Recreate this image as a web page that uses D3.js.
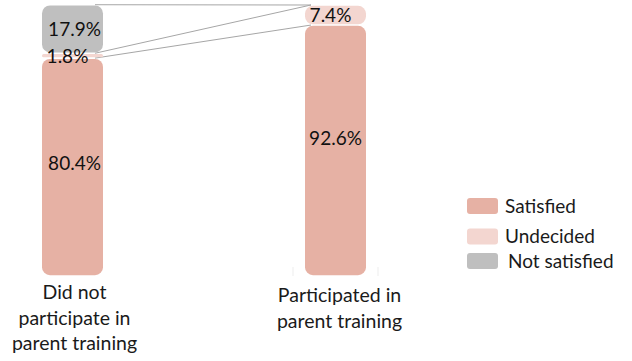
<!DOCTYPE html>
<html>
<head>
<meta charset="utf-8">
<script src="https://cdn.jsdelivr.net/npm/d3@7"></script>
<style>
  html, body { margin: 0; padding: 0; background: #fff; }
  svg { display: block; font-family: Lato, "Open Sans", sans-serif; }
</style>
</head>
<body>
<svg id="chart" width="632" height="361"></svg>
<script>
// Survey groups and the share of parents in each satisfaction category (%)
const groups = ["Did not participate in parent training", "Participated in parent training"];
const groupLines = [["Did not", "participate in", "parent training"], ["Participated in", "parent training"]];
const seriesNames = ["Satisfied", "Undecided", "Not satisfied"];
const satisfied = [80.4, 92.6];
const undecided = [1.8, 7.4];
const notSatisfied = [17.9, 0];
const colors = ["#E6B1A4", "#F3D6D0", "#BFBFBF"];

const svg = d3.select("#chart");
const seriesValues = [satisfied, undecided, notSatisfied];

const rows = groups.map((g, i) => {
  const r = { group: g };
  seriesNames.forEach((s, k) => { r[s] = seriesValues[k][i]; });
  return r;
});
const stacked = d3.stack().keys(seriesNames)(rows);

const x = d3.scalePoint().domain(groups).range([72.5, 335.5]);
const barW = 61;
const y = d3.scaleLinear().domain([0, 100]).range([276, 5]);

// connector lines between matching segment boundaries
const linesG = svg.append("g");
stacked.forEach(layer => {
  const a = layer[0][1], b = layer[1][1];
  linesG.append("line")
    .attr("x1", x(groups[0]) + barW / 2 - 8).attr("y1", y(a))
    .attr("x2", x(groups[1]) - barW / 2 + 6).attr("y2", y(b))
    .attr("stroke", "#A6A6A6").attr("stroke-width", 1);
});

// faint category ticks beside the second bar
[x(groups[1]) - 42.5, x(groups[1]) + 42.5].forEach(tx => {
  svg.append("line").attr("x1", tx).attr("x2", tx).attr("y1", 267).attr("y2", 276)
    .attr("stroke", "#EDEDED").attr("stroke-width", 1);
});

// stacked segments as rounded blocks
stacked.forEach((layer, k) => {
  layer.forEach((d, i) => {
    const v = d[1] - d[0];
    if (v <= 0) return;
    const top = y(d[1]) + 0.8, bot = y(d[0]) - 0.8;
    const h = Math.max(bot - top, 1);
    const r = Math.min(8, h / 2);
    svg.append("rect")
      .attr("x", x(groups[i]) - barW / 2).attr("y", top)
      .attr("width", barW).attr("height", h)
      .attr("rx", r).attr("ry", r)
      .attr("fill", colors[k]);
  });
});

// value labels (tall satisfied blocks carry their label a little above the middle)
const nudgeY = { "Satisfied": [-3.5, -12] };
stacked.forEach((layer, k) => {
  layer.forEach((d, i) => {
    const v = d[1] - d[0];
    if (v <= 0) return;
    let cx = x(groups[i]);
    if (v < 10) cx -= 5;
    else if (i === 0) cx += 2;
    const dy = nudgeY[layer.key] ? nudgeY[layer.key][i] : 0;
    svg.append("text")
      .attr("x", cx).attr("y", (y(d[0]) + y(d[1])) / 2 + dy)
      .attr("dy", "0.36em")
      .attr("text-anchor", "middle")
      .attr("font-size", 19)
      .attr("fill", "#111")
      .text(seriesValues[k][i].toFixed(1) + "%");
  });
});

// category labels under the bars
const catTop = [299, 302];
groupLines.forEach((lines, i) => {
  lines.forEach((ln, j) => {
    svg.append("text")
      .attr("x", x(groups[i]) + (i === 0 ? 2 : 4))
      .attr("y", catTop[i] + j * 25.5)
      .attr("text-anchor", "middle")
      .attr("font-size", 19.5)
      .attr("fill", "#1a1a1a")
      .text(ln);
  });
});

// legend
const legend = svg.append("g").attr("transform", "translate(467,198)");
seriesNames.forEach((s, k) => {
  const gy = [0, 30.5, 55][k];
  legend.append("rect").attr("x", 0).attr("y", gy).attr("width", 31).attr("height", 16)
    .attr("rx", 3).attr("fill", colors[k]);
  legend.append("text").attr("x", k === 2 ? 41 : 38).attr("y", gy + 8).attr("dy", "0.36em")
    .attr("font-size", 19).attr("fill", "#1a1a1a").text(s);
});
</script>
</body>
</html>
